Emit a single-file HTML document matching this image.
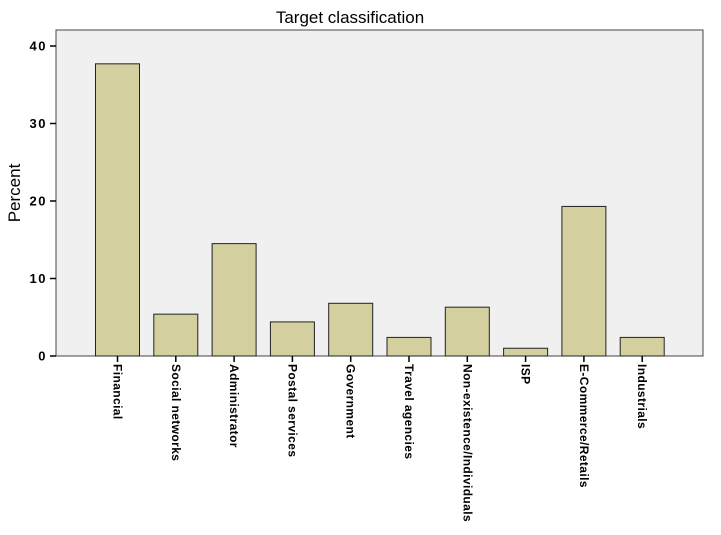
<!DOCTYPE html>
<html><head><meta charset="utf-8"><style>
body{margin:0;background:#fff;}
svg{display:block;font-family:"Liberation Sans",sans-serif;}
</style></head><body>
<svg id="chart" width="721" height="535">
<text x="350" y="23" font-size="17" text-anchor="middle">Target classification</text>
<rect x="56" y="30" width="647" height="326" fill="#f0f0f0" stroke="#444" stroke-width="1"/>
<text transform="translate(20,193) rotate(-90)" font-size="17" text-anchor="middle">Percent</text>
<g id="yaxis"></g><g id="bars"></g><g id="xlabels"></g>
</svg>
<script>
const categories=["Financial","Social networks","Administrator","Postal services","Government","Travel agencies","Non-existence/Individuals","ISP","E-Commerce/Retails","Industrials"];
const percents=[37.7,5.4,14.5,4.4,6.8,2.4,6.3,1.0,19.3,2.4];
const yTicks=[0,10,20,30,40];
const NS="http://www.w3.org/2000/svg";
function y(v){return 356-v*7.75;}
function x(i){return 117.5+i*58.3;}
const ya=document.getElementById('yaxis'),bg=document.getElementById('bars'),xl=document.getElementById('xlabels');
function mk(t,a){const e=document.createElementNS(NS,t);for(const k in a)e.setAttribute(k,a[k]);return e;}
yTicks.forEach(v=>{
  const l=mk('line',{x1:50,x2:56,y1:y(v),y2:y(v),stroke:'#000','stroke-width':1.5});
  
  
  ya.appendChild(l);
  const t=mk('text',{x:47,y:y(v)+4.5,'font-size':13,'font-weight':'bold','text-anchor':'end','letter-spacing':'1.5'});
  t.textContent=v;
  
  
  ya.appendChild(t);
});
categories.forEach((c,i)=>{
  const r=mk('rect',{x:x(i)-22,y:y(percents[i]),width:44,height:356-y(percents[i]),fill:'#d3cf9f',stroke:'#222','stroke-width':1});
  
  
  bg.appendChild(r);
  const tk=mk('line',{x1:x(i),x2:x(i),y1:356,y2:362,stroke:'#000','stroke-width':1.5});
  
  
  xl.appendChild(tk);
  const t=mk('text',{transform:`translate(${x(i)-4},364) rotate(90)`,'font-size':12,'font-weight':'bold','letter-spacing':'0.4'});
  t.textContent=c;
  
  
  xl.appendChild(t);
});
</script>
</body></html>
